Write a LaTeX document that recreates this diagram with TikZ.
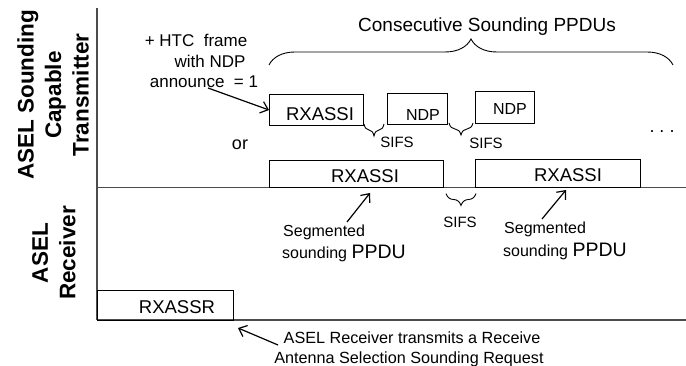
\documentclass[tikz,border=0pt]{standalone}
\usepackage{fontspec}
\setmainfont{Liberation Sans}
\usetikzlibrary{arrows.meta,decorations.pathreplacing,calc}
\begin{document}
\begin{tikzpicture}[x=1pt,y=-1pt,
  axisline/.style={draw=black!70,line width=1.4pt},
  framebox/.style={draw=black,line width=1pt,inner sep=0pt,anchor=north west},
  lbl/.style={inner sep=0pt,anchor=base,font=\fontsize{17}{20}\selectfont},
  boxtxt/.style={inner sep=0pt,anchor=base,font=\fontsize{18.5}{22}\selectfont},
  sidelbl/.style={inner sep=0pt,rotate=90,align=center,font=\fontsize{22.5}{27.5}\selectfont\bfseries},
  pointer/.style={draw=black,line width=1.2pt,-{Straight Barb[length=7pt,width=12pt]}},
  bracedn/.style={draw=black,line width=0.9pt,decorate,decoration={brace,mirror,amplitude=#1}},
  braceup/.style={draw=black,line width=0.9pt,decorate,decoration={brace,amplitude=#1}}
]
\useasboundingbox (0,0) rectangle (686,366);

% axes
\coordinate (axtop) at (97,8);
\coordinate (axmid) at (97,187.5);
\coordinate (axbot) at (97,320);
\coordinate (axmidR) at (686,187.5);
\coordinate (axbotR) at (686,320);
\draw[axisline] (axtop) -- (axbot);
\draw[axisline] (axmid) -- (axmidR);
\draw[axisline] (axbot) -- (axbotR);

% side labels
\node[sidelbl] (txlbl) at (53,95) {ASEL Sounding\\Capable\\Transmitter};
\node[sidelbl] (rxlbl) at (54,253) {ASEL\\Receiver};

% transmitter frames (upper option)
\node[framebox,minimum width=94pt,minimum height=31pt] (rxs) at (269,94) {};
\node[framebox,minimum width=60pt,minimum height=31pt] (ndp1) at (387,93) {};
\node[framebox,minimum width=59pt,minimum height=32pt] (ndp2) at (475,91) {};
\node[boxtxt] (rxstxt) at (320,121) {RXASSI};
\node[boxtxt,font=\fontsize{16}{19}\selectfont] (ndp1txt) at (423,121) {NDP};
\node[boxtxt,font=\fontsize{16}{19}\selectfont] (ndp2txt) at (510,115) {NDP};

% transmitter frames (segmented option)
\node[framebox,minimum width=174pt,minimum height=27.5pt] (big1) at (269,160) {};
\node[framebox,minimum width=165pt,minimum height=28.5pt] (big2) at (475,159) {};
\node[boxtxt] (big1txt) at (365,183) {RXASSI};
\node[boxtxt] (big2txt) at (568,182) {RXASSI};

% receiver frame
\node[framebox,minimum width=136pt,minimum height=30pt] (rxr) at (97,290) {};
\node[boxtxt] (rxrtxt) at (177,313) {RXASSR};

% braces
\coordinate (bb1) at (269,65);
\coordinate (bb2) at (673,65);
\draw[braceup=26pt] (bb1) -- (bb2);
\node[lbl,font=\fontsize{19}{22}\selectfont] (cons) at (487,32) {Consecutive Sounding PPDUs};

\coordinate (s1a) at (rxs.south east);
\coordinate (s1b) at (ndp1.south west);
\draw[bracedn=12pt] ($(s1a)+(0,-2)$) -- ($(s1b)+(-3,-1)$);
\node[lbl,font=\fontsize{15}{18}\selectfont] (sifs1) at (397,148) {SIFS};

\coordinate (s2a) at (ndp1.south east);
\coordinate (s2b) at (ndp2.south west);
\draw[bracedn=12pt] ($(s2a)+(1,-2)$) -- ($(s2b)+(-2,-1)$);
\node[lbl,font=\fontsize{15}{18}\selectfont] (sifs2) at (486,149) {SIFS};

\coordinate (s3a) at (big1.south east);
\coordinate (s3b) at (big2.south west);
\draw[bracedn=12pt] ($(s3a)+(2,5)$) -- ($(s3b)+(1,5)$);
\node[lbl,font=\fontsize{15}{18}\selectfont] (sifs3) at (460,228) {SIFS};

% announce note
\node[lbl] (htc1) at (196,47) {+ HTC\ \ frame};
\node[lbl] (htc2) at (210,68) {with NDP};
\node[lbl] (htc3) at (204,88) {announce\ \ = 1};
\coordinate (htcarr) at (208,88);
\draw[pointer] (htcarr) -- (rxs.west);

\node[lbl,font=\fontsize{18}{22}\selectfont] (or) at (240,150) {or};
\node[lbl,font=\fontsize{18}{22}\selectfont] (dots) at (662,133) {.\ .\ .};

% segmented notes
\node[lbl,anchor=base west,font=\fontsize{16}{19}\selectfont] (seg1a) at (283,237) {Segmented};
\node[lbl,anchor=base west,font=\fontsize{16}{19}\selectfont] (seg1b) at (282,259) {sounding {\fontsize{19.5}{22}\selectfont PPDU}};
\coordinate (seg1s) at (347,222);
\coordinate (seg1e) at (370,193);
\draw[pointer] (seg1s) -- (seg1e);

\node[lbl,anchor=base west,font=\fontsize{16}{19}\selectfont] (seg2a) at (504,234) {Segmented};
\node[lbl,anchor=base west,font=\fontsize{16}{19}\selectfont] (seg2b) at (503,257) {sounding {\fontsize{19.5}{22}\selectfont PPDU}};
\coordinate (seg2s) at (542,219);
\coordinate (seg2e) at (566,190);
\draw[pointer] (seg2s) -- (seg2e);

% bottom note
\node[lbl,font=\fontsize{16.2}{19}\selectfont] (req1) at (412,344) {ASEL Receiver transmits a Receive};
\node[lbl,font=\fontsize{16.2}{19}\selectfont] (req2) at (409,363) {Antenna Selection Sounding Request};
\coordinate (reqs) at (278,345);
\coordinate (reqe) at (238,328);
\draw[pointer] (reqs) -- (reqe);
\end{tikzpicture}
\end{document}
